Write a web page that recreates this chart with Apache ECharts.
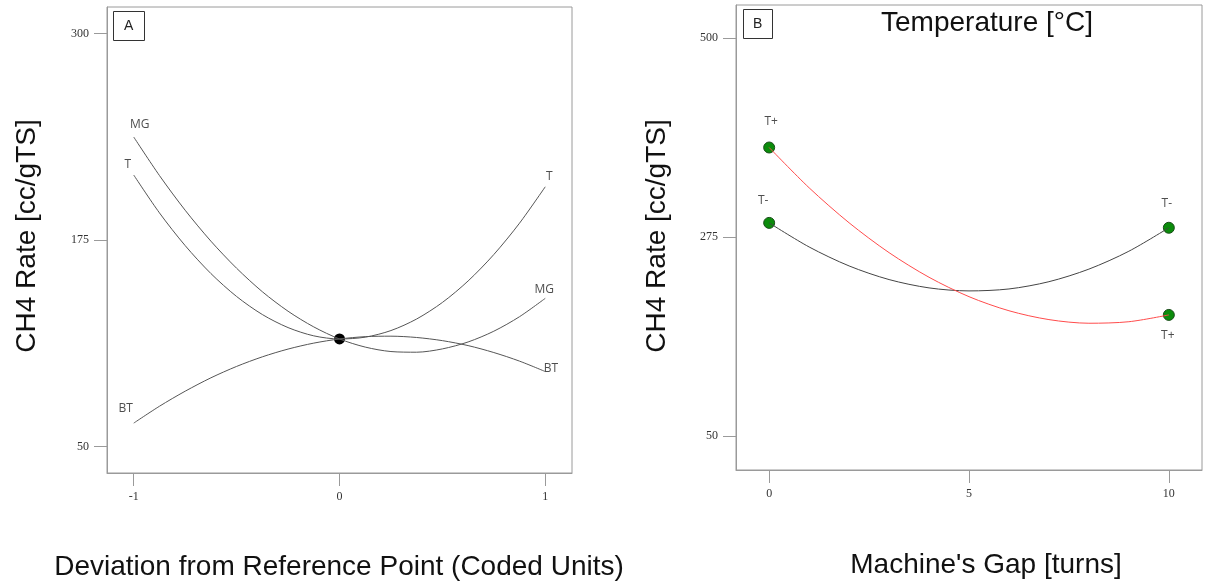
<!DOCTYPE html>
<html>
<head>
<meta charset="utf-8">
<title>CH4 rate</title>
<script src="https://cdn.jsdelivr.net/npm/echarts@6/dist/echarts.min.js"></script>
<style>
	html, body { margin: 0; padding: 0; background: #fff; }
	#chart { width: 1206px; height: 585px; }
</style>
</head>
<body>
<div id="chart"></div>
<script>
	// panel A - perturbation plot (coded units)
	var codedX = [-1, -0.875, -0.75, -0.625, -0.5, -0.375, -0.25, -0.125, 0, 0.125, 0.25, 0.375, 0.5, 0.625, 0.75, 0.875, 1]
	var rateT = [214.3, 191.4, 171.6, 154.7, 140.8, 129.9, 122.0, 117.0, 115.1, 116.2, 120.2, 127.2, 137.2, 150.2, 166.2, 185.2, 207.2]
	var rateMG = [237.3, 214.0, 193.0, 174.3, 157.9, 143.7, 131.9, 122.4, 115.1, 110.2, 107.5, 107.1, 109.1, 113.3, 119.8, 128.6, 139.7]
	var rateBT = [64.2, 74.4, 83.5, 91.6, 98.5, 104.3, 109.0, 112.6, 115.1, 116.5, 116.8, 116.0, 114.1, 111.1, 106.9, 101.7, 95.4]
	var ticksA_x = [-1, 0, 1]
	var ticksA_y = [50, 175, 300]

	// panel B - interaction, machine's gap vs temperature
	var gapTurns = [0, 1, 2, 3, 4, 5, 6, 7, 8, 9, 10]
	var rateTminus = [291.0, 263.8, 242.4, 227.0, 217.6, 214.2, 216.4, 224.6, 238.8, 259.0, 285.5]
	var rateTplus = [376.1, 330.6, 291.1, 257.4, 229.6, 207.7, 191.8, 181.8, 177.7, 179.4, 187.1]
	var ticksB_x = [0, 5, 10]
	var ticksB_y = [50, 275, 500]

	var axisGrey = '#9a9a9a'
	var serif = '"Liberation Serif", "DejaVu Serif", serif'
	var sans = '"Liberation Sans", Arial, sans-serif'
	var bigFont = '28px ' + sans

	function pairs(xs, ys) {
		return xs.map(function (x, i) { return [x, ys[i]] })
	}

	function valueAxis(idx, min, max, ticks) {
		return {
			type: 'value',
			gridIndex: idx,
			min: min,
			max: max,
			splitLine: { show: false },
			axisLine: { show: true, onZero: false, lineStyle: { color: axisGrey, width: 1 } },
			axisTick: { show: true, customValues: ticks, length: 13, lineStyle: { color: axisGrey } },
			axisLabel: { customValues: ticks, margin: 18, color: '#333', fontSize: 12, fontFamily: serif }
		}
	}

	// little text tags sitting next to curve ends
	function tag(idx, point, text, pos, offset, dist) {
		return {
			type: 'scatter',
			xAxisIndex: idx,
			yAxisIndex: idx,
			symbolSize: 1,
			silent: true,
			itemStyle: { color: 'rgba(0,0,0,0)' },
			label: {
				show: true,
				formatter: text,
				position: pos,
				offset: offset,
				distance: dist,
				color: '#222',
				fontSize: 12,
				fontFamily: '"Open Sans", "DejaVu Sans", sans-serif'
			},
			data: [point]
		}
	}

	function curve(idx, xs, ys, color) {
		return {
			type: 'line',
			xAxisIndex: idx,
			yAxisIndex: idx,
			smooth: 0.3,
			showSymbol: false,
			silent: true,
			lineStyle: { color: color, width: 1 },
			data: pairs(xs, ys)
		}
	}

	var last = codedX.length - 1
	var mid = 8
	var lastB = gapTurns.length - 1

	var chart = echarts.init(document.getElementById('chart'))
	chart.setOption({
		animation: false,
		title: [{
			text: 'A', left: 113, top: 11, padding: [8, 11],
			borderWidth: 1, borderColor: '#333',
			textStyle: { fontSize: 14, fontWeight: 'normal', color: '#222', fontFamily: sans }
		}, {
			text: 'B', left: 743, top: 9, padding: [8, 10],
			borderWidth: 1, borderColor: '#333',
			textStyle: { fontSize: 14, fontWeight: 'normal', color: '#222', fontFamily: sans }
		}],
		grid: [
			{ left: 107, top: 7, width: 465, height: 466, show: true, borderColor: axisGrey, borderWidth: 1 },
			{ left: 736, top: 5, width: 466, height: 465, show: true, borderColor: axisGrey, borderWidth: 1 }
		],
		xAxis: [
			valueAxis(0, -1.13, 1.13, ticksA_x),
			valueAxis(1, -0.83, 10.83, ticksB_x)
		],
		yAxis: [
			valueAxis(0, 34, 316, ticksA_y),
			valueAxis(1, 12, 537, ticksB_y)
		],
		graphic: [{
			type: 'text', x: 27, y: 236, rotation: Math.PI / 2,
			style: { text: 'CH4 Rate [cc/gTS]', font: bigFont, fill: '#111', align: 'center', verticalAlign: 'middle' }
		}, {
			type: 'text', x: 657, y: 236, rotation: Math.PI / 2,
			style: { text: 'CH4 Rate [cc/gTS]', font: bigFont, fill: '#111', align: 'center', verticalAlign: 'middle' }
		}, {
			type: 'text', x: 339, y: 567,
			style: { text: 'Deviation from Reference Point (Coded Units)', font: bigFont, fill: '#111', align: 'center', verticalAlign: 'middle' }
		}, {
			type: 'text', x: 986, y: 565,
			style: { text: "Machine's Gap [turns]", font: bigFont, fill: '#111', align: 'center', verticalAlign: 'middle' }
		}, {
			type: 'text', x: 987, y: 23,
			style: { text: 'Temperature [°C]', font: bigFont, fill: '#111', align: 'center', verticalAlign: 'middle' }
		}],
		series: [
			curve(0, codedX, rateT, '#555'),
			curve(0, codedX, rateMG, '#555'),
			curve(0, codedX, rateBT, '#555'),
			{
				type: 'scatter', xAxisIndex: 0, yAxisIndex: 0, silent: true,
				symbolSize: 11, itemStyle: { color: '#000', opacity: 1 },
				data: [[codedX[mid], rateT[mid]]]
			},
			tag(0, [codedX[0], rateMG[0]], 'MG', 'top', [6, 0], 6),
			tag(0, [codedX[0], rateT[0]], 'T', 'top', [-6, 0], 4),
			tag(0, [codedX[0], rateBT[0]], 'BT', 'top', [-8, 0], 8),
			tag(0, [codedX[last], rateT[last]], 'T', 'top', [4, 0], 4),
			tag(0, [codedX[last], rateMG[last]], 'MG', 'top', [-1, 0], 2),
			tag(0, [codedX[last], rateBT[last]], 'BT', 'right', [-2, -3], 0),

			curve(1, gapTurns, rateTminus, '#444'),
			curve(1, gapTurns, rateTplus, '#ff4b4b'),
			{
				type: 'scatter', xAxisIndex: 1, yAxisIndex: 1, silent: true,
				symbolSize: 11,
				itemStyle: { color: '#0b8c0b', borderColor: '#1a4d1a', borderWidth: 1, opacity: 1 },
				data: [
					[gapTurns[0], rateTminus[0]], [gapTurns[lastB], rateTminus[lastB]],
					[gapTurns[0], rateTplus[0]], [gapTurns[lastB], rateTplus[lastB]]
				]
			},
			tag(1, [gapTurns[0], rateTplus[0]], 'T+', 'top', [2, 0], 19),
			tag(1, [gapTurns[0], rateTminus[0]], 'T-', 'top', [-6, 0], 16),
			tag(1, [gapTurns[lastB], rateTminus[lastB]], 'T-', 'top', [-2, 0], 18),
			tag(1, [gapTurns[lastB], rateTplus[lastB]], 'T+', 'bottom', [-1, 0], 14)
		]
	})
</script>
</body>
</html>
